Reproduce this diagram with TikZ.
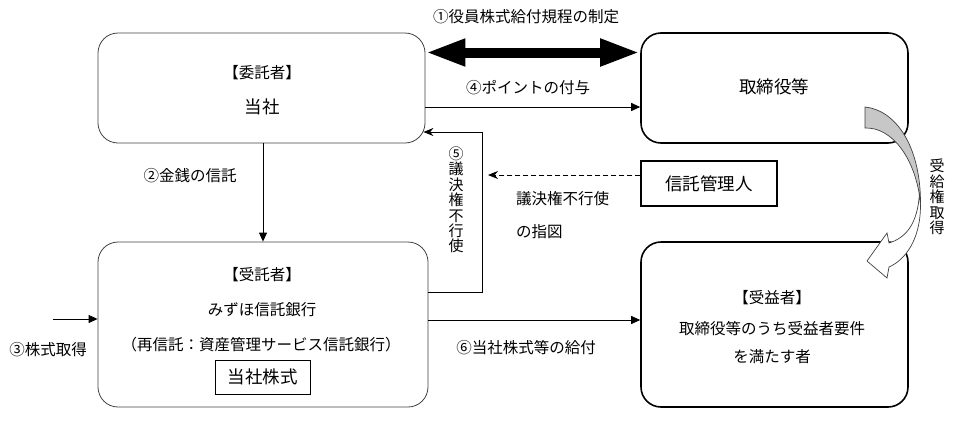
\documentclass[tikz,border=0pt]{standalone}
\usepackage{fontspec}
\setmainfont{Noto Sans CJK JP}
\usetikzlibrary{arrows.meta}
\begin{document}
\begin{tikzpicture}[x=1pt,y=-1pt,
  lbox/.style={draw=black!75, line width=0.8pt, rounded corners=20pt, inner sep=0pt},
  rbox/.style={draw=black, line width=1.6pt, rounded corners=20pt, inner sep=0pt},
  plainbox/.style={draw=black, line width=1.1pt, inner sep=0pt},
  lbl/.style={font=\fontsize{15.5}{18}\selectfont, inner sep=0pt},
  bigt/.style={font=\fontsize{17.5}{20}\selectfont, inner sep=0pt},
  vtext/.style={font=\fontsize{15}{15.4}\selectfont, inner sep=0pt, align=center},
  conn/.style={line width=0.9pt, -{Triangle[length=9pt,width=8pt]}},
  sconn/.style={line width=0.9pt, -{Stealth[length=10pt,width=8pt]}},
]
\useasboundingbox (0,0) rectangle (970,426);

% boxes
\node[lbox, minimum width=327pt, minimum height=110pt] (itaku) at (261.5,88) {};
\node[lbox, minimum width=330pt, minimum height=165pt] (jutaku) at (263,324.5) {};
\node[rbox, minimum width=267pt, minimum height=110pt] (tori) at (774.5,88) {};
\node[rbox, minimum width=267pt, minimum height=165pt] (jueki) at (774.5,324.5) {};
\node[plainbox, minimum width=136pt, minimum height=45pt, font=\fontsize{17.5}{20}\selectfont] (kanri) at (709,183.5) {信託管理人};
\node[plainbox, line width=0.9pt, minimum width=95pt, minimum height=34pt, font=\fontsize{17.5}{20}\selectfont] (kabu) at (262.5,377) {当社株式};

% box texts
\node[lbl] (t1a) at (262,73) {【委託者】};
\node[bigt] (t1b) at (262,107) {当社};
\node[bigt] (t2a) at (774,87) {取締役等};
\node[lbl] (t3a) at (262,275) {【受託者】};
\node[lbl] (t3b) at (262,310) {みずほ信託銀行};
\node[lbl] (t3c) at (261,345) {（再信託：資産管理サービス信託銀行）};
\node[lbl] (t4a) at (772,298) {【受益者】};
\node[lbl] (t4b) at (772,329) {取締役等のうち受益者要件};
\node[lbl] (t4c) at (772,357) {を満たす者};

% (1) double block arrow
\draw[line width=10pt, {Triangle[length=40pt,width=25pt]}-{Triangle[length=40pt,width=25pt]}]
  (itaku.east |- 0,52.5) -- (tori.west |- 0,52.5);
\node[lbl] (l1) at (526,17) {①役員株式給付規程の制定};

% (4)
\draw[conn] (itaku.east |- 0,107) -- (tori.west |- 0,107);
\node[lbl] (l4) at (528,88) {④ポイントの付与};

% (2)
\draw[conn] (jutaku.north |- itaku.south) -- (jutaku.north);
\node[lbl] (l2) at (190,176) {②金銭の信託};

% (3)
\coordinate (s3) at (53,319);
\draw[conn] (s3) -- (jutaku.west |- s3);
\node[lbl] (l3) at (48,350) {③株式取得};

% (6)
\draw[conn] (jutaku.east |- 0,320) -- (jueki.west |- 0,320);
\node[lbl] (l6) at (526,348) {⑥当社株式等の給付};

% (5)
\coordinate (v5) at (482,132);
\draw[sconn] (jutaku.east |- 0,292) -| (v5) -- ([xshift=-2pt]itaku.east |- v5);
\node[vtext] (l5) at (456,200) {⑤\\議\\決\\権\\不\\行\\使};

% dashed instruction
\coordinate (d5) at (488,175);
\draw[sconn, dashed, dash pattern=on 5pt off 3pt] (kanri.west |- d5) -- (d5);
\node[lbl, anchor=west] (l7a) at (516,199) {議決権不行使};
\node[lbl, anchor=west] (l7b) at (516,232) {の指図};

% curved block arrow
\filldraw[fill=white, draw=black!75, line width=0.7pt, line join=miter]
  (919.5,192) .. controls (918,225) and (905,238) .. (889,243) -- (887,233) -- (867,261)
  -- (887,278) -- (889,267) .. controls (905,260) and (920.5,240) .. (920.5,205) -- cycle;
\filldraw[fill=black!22, draw=black!75, line width=0.7pt]
  (865,107) .. controls (895,110) and (920.5,145) .. (920.5,203)
  .. controls (916,160) and (893,127) .. (865,128) -- cycle;
\node[vtext] (l8) at (937,197) {受\\給\\権\\取\\得};
\end{tikzpicture}
\end{document}
